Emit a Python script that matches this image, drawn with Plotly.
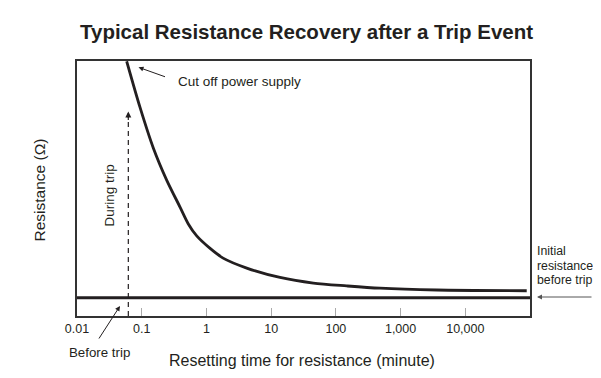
import plotly.graph_objects as go

# ---- data ----
curve_time = [0.0586, 0.0942, 0.151, 0.243, 0.391, 0.525, 0.708, 1.14, 1.81, 4.2, 13.7, 44.9, 147, 482, 3630, 89000]
curve_res = [99.9, 81.8, 65.9, 53.3, 42.7, 36.1, 31.4, 26.5, 22.7, 18.8, 15.1, 12.9, 11.8, 10.9, 10.2, 9.9]
baseline_time = [0.01, 100000]
baseline_res = [7.2, 7.2]
trip_time = [0.0621, 0.0621]
trip_res = [0, 78]
tick_vals = [0.01, 0.1, 1, 10, 100, 1000, 10000]
tick_text = ["0.01", "0.1", "1", "10", "100", "1,000", "10,000"]
initial_lines = ["Initial", "resistance", "before trip"]

# ---- layout helpers (window pixel -> paper) ----
OFF = 8  # page body margin
L, R, T, B = 77, 530, 61, 316
W, H = 601, 378
FIG_W, FIG_H = W - 2 * OFF, H - 2 * OFF
def px(x):
    return (x - L) / (R - L)
def py(y):
    return (B - y) / (B - T)

FONT = "Liberation Sans, Arial, sans-serif"
TXT = "#231f20"

fig = go.Figure()
fig.add_trace(go.Scatter(x=baseline_time, y=baseline_res, mode="lines",
                         line=dict(color=TXT, width=3), hoverinfo="skip"))
fig.add_trace(go.Scatter(x=curve_time, y=curve_res, mode="lines",
                         line=dict(color=TXT, width=2.8, shape="spline", smoothing=0.8),
                         hoverinfo="skip"))
fig.add_trace(go.Scatter(x=trip_time, y=trip_res, mode="lines",
                         line=dict(color=TXT, width=1.2, dash="5px,4px"), hoverinfo="skip"))

ann = []
ann.append(dict(text="<b>Typical Resistance Recovery after a Trip Event</b>", xref="paper", yref="paper",
                x=px(306), y=py(32), showarrow=False, font=dict(size=20.5, color=TXT, family=FONT),
                xanchor="center", yanchor="middle"))
ann.append(dict(text="Resetting time for resistance (minute)", xref="paper", yref="paper",
                x=px(302), y=py(360), showarrow=False, font=dict(size=16, color=TXT, family=FONT),
                xanchor="center", yanchor="middle"))
ann.append(dict(text="Resistance (Ω)", xref="paper", yref="paper", textangle=-90,
                x=px(38.5), y=py(190), showarrow=False, font=dict(size=15.5, color=TXT, family=FONT),
                xanchor="center", yanchor="middle"))
ann.append(dict(text="During trip", xref="paper", yref="paper", textangle=-90,
                x=px(108.5), y=py(196), showarrow=False, font=dict(size=13.5, color=TXT, family=FONT),
                xanchor="center", yanchor="middle"))
ann.append(dict(text="", xref="paper", yref="paper", x=px(128.3), y=py(111.5), ax=0, ay=10,
                showarrow=True, arrowhead=2, arrowsize=1, arrowwidth=1.2, arrowcolor=TXT))
ann.append(dict(text="Cut off power supply", xref="paper", yref="paper",
                x=px(176), y=py(81), showarrow=False, font=dict(size=13.5, color=TXT, family=FONT),
                xanchor="left", yanchor="middle"))
ann.append(dict(text="", xref="paper", yref="paper", x=px(138.5), y=py(67.3), ax=28, ay=10,
                showarrow=True, arrowhead=2, arrowsize=1, arrowwidth=1, arrowcolor=TXT))
ann.append(dict(text="Before trip", xref="paper", yref="paper",
                x=px(67), y=py(352.5), showarrow=False, font=dict(size=13.3, color=TXT, family=FONT),
                xanchor="left", yanchor="middle"))
ann.append(dict(text="", xref="paper", yref="paper", x=px(120), y=py(306), ax=-22, ay=34,
                showarrow=True, arrowhead=2, arrowsize=1, arrowwidth=1, arrowcolor=TXT))
for i, line in enumerate(initial_lines):
    ann.append(dict(text=line, xref="paper", yref="paper",
                    x=px(534.5), y=py(251 + 14.5 * i), showarrow=False, align="left",
                    font=dict(size=12.3, color=TXT, family=FONT), xanchor="left", yanchor="middle"))
ann.append(dict(text="", xref="paper", yref="paper", x=px(537), y=py(297), ax=70, ay=0,
                showarrow=True, arrowhead=2, arrowsize=1, arrowwidth=1, arrowcolor="#555"))

fig.update_layout(
    width=FIG_W, height=FIG_H,
    margin=dict(l=L - OFF, r=(OFF + FIG_W) - R, t=T - OFF, b=(OFF + FIG_H) - B),
    paper_bgcolor="white", plot_bgcolor="white",
    showlegend=False,
    annotations=ann,
    font=dict(family=FONT, color=TXT),
)
fig.update_xaxes(type="log", range=[-2, 5], tickvals=tick_vals, ticktext=tick_text,
                 ticks="inside", ticklen=8, tickcolor="#aaa", tickwidth=1,
                 showgrid=False, zeroline=False, showline=True, linecolor="#333", linewidth=2,
                 mirror=True, tickfont=dict(size=12.5, color=TXT, family=FONT))
fig.update_yaxes(range=[0, 100], showticklabels=False, ticks="", showgrid=False, zeroline=False,
                 showline=True, linecolor="#333", linewidth=2, mirror=True)

fig.write_html("out.html")
